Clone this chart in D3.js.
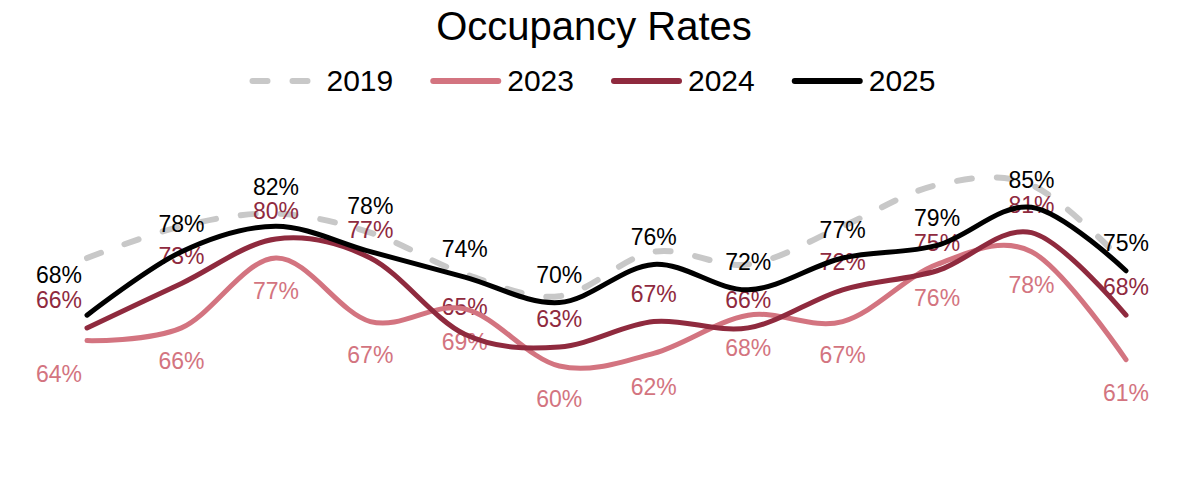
<!DOCTYPE html>
<html>
<head>
<meta charset="utf-8">
<script src="https://cdn.jsdelivr.net/npm/d3@7"></script>
<style>
  html, body { margin: 0; padding: 0; background: #fff; }
  svg { display: block; font-family: "Liberation Sans", Arial, sans-serif; }
</style>
</head>
<body>
<div id="chart"></div>
<script>
// ---- data ----
const months  = ['Jan', 'Feb', 'Mar', 'Apr', 'May', 'Jun', 'Jul', 'Aug', 'Sep', 'Oct', 'Nov', 'Dec'];
const years   = ['2019', '2023', '2024', '2025'];
const occ2019 = [77, 82, 84, 81, 74.5, 71, 78, 76, 82, 88.5, 88.5, 76];
const occ2023 = [64, 66, 77, 67, 69, 60, 62, 68, 67, 76, 78, 61];
const occ2024 = [66, 73, 80, 77, 65, 63, 67, 66, 72, 75, 81, 68];
const occ2025 = [68, 78, 82, 78, 74, 70, 76, 72, 77, 79, 85, 75];

const W = 1181, H = 487;
const CENTER = 594;
const LABEL_FS = 23;
const LABEL_SPACING = 24;

const series = [
  { year: years[0], values: occ2019, color: '#c8c8c8', width: 6, dash: '15 25', labels: false },
  { year: years[1], values: occ2023, color: '#d37480', width: 5, labels: true, side:  1 },
  { year: years[2], values: occ2024, color: '#8f2a3e', width: 5, labels: true, side: -1 },
  { year: years[3], values: occ2025, color: '#000000', width: 5, labels: true, side: -1 },
];

const svg = d3.select('#chart').append('svg')
  .attr('width', W).attr('height', H)
  .style('background', '#fff');

const x = d3.scalePoint().domain(months).range([87, 1126]);
const y = d3.scaleLinear().domain([50, 100]).range([429.5, 112]);

// title
svg.append('text')
  .attr('x', CENTER).attr('y', 40)
  .attr('text-anchor', 'middle')
  .attr('font-size', 40).attr('fill', '#000')
  .text('Occupancy Rates');

// legend
const legend = svg.append('g');
const SYM = 65, SYM_GAP = 9, ITEM_GAP = 40;
let lx = 0;
series.forEach(s => {
  const item = legend.append('g').attr('transform', `translate(${lx},0)`);
  item.append('line')
    .attr('x1', 0).attr('x2', SYM).attr('y1', 81).attr('y2', 81)
    .attr('stroke', s.color).attr('stroke-width', 6)
    .attr('stroke-linecap', 'round')
    .attr('stroke-dasharray', s.dash || null);
  const t = item.append('text')
    .attr('x', SYM + SYM_GAP).attr('y', 91)
    .attr('font-size', 30).attr('fill', '#000')
    .text(s.year);
  lx += SYM + SYM_GAP + t.node().getComputedTextLength() + ITEM_GAP;
});
const legendW = lx - ITEM_GAP;
legend.attr('transform', `translate(${CENTER - legendW / 2},0)`);

const line = d3.line()
  .x((d, i) => x(months[i]))
  .y(d => y(d))
  .curve(d3.curveCardinal.tension(0));

function drawLines(g, list) {
  g.selectAll('path')
    .data(list)
    .join('path')
    .attr('d', d => line(d.values))
    .attr('fill', 'none')
    .attr('stroke', d => d.color)
    .attr('stroke-width', d => d.width)
    .attr('stroke-linecap', 'round')
    .attr('stroke-linejoin', 'round')
    .attr('stroke-dasharray', d => d.dash || null);
}

// 2019 reference line sits under everything
drawLines(svg.append('g'), series.filter(s => !s.labels));

// value labels, pushed away from their point until they clear earlier labels
const gLabels = svg.append('g').attr('font-size', LABEL_FS);
const placed = [];
series.filter(s => s.labels).forEach(s => {
  s.values.forEach((v, i) => {
    const t = gLabels.append('text')
      .attr('text-anchor', 'middle')
      .attr('fill', s.color)
      .text(`${v}%`);
    const w = t.node().getComputedTextLength();
    let cx = x(months[i]);
    if (i === 0) cx = cx - 5 - w / 2;
    let cy = y(v) + (s.side > 0 ? 33 : -28);
    const hit = () => placed.some(p =>
      Math.abs(p.cx - cx) < (p.w + w) / 2 + 2 && Math.abs(p.cy - cy) < LABEL_SPACING);
    let guard = 0;
    while (hit() && guard++ < 120) cy += s.side;
    placed.push({ cx, cy, w });
    t.attr('x', cx).attr('y', cy + 0.36 * LABEL_FS);
  });
});

// yearly lines on top of the labels
drawLines(svg.append('g'), series.filter(s => s.labels));
</script>
</body>
</html>
